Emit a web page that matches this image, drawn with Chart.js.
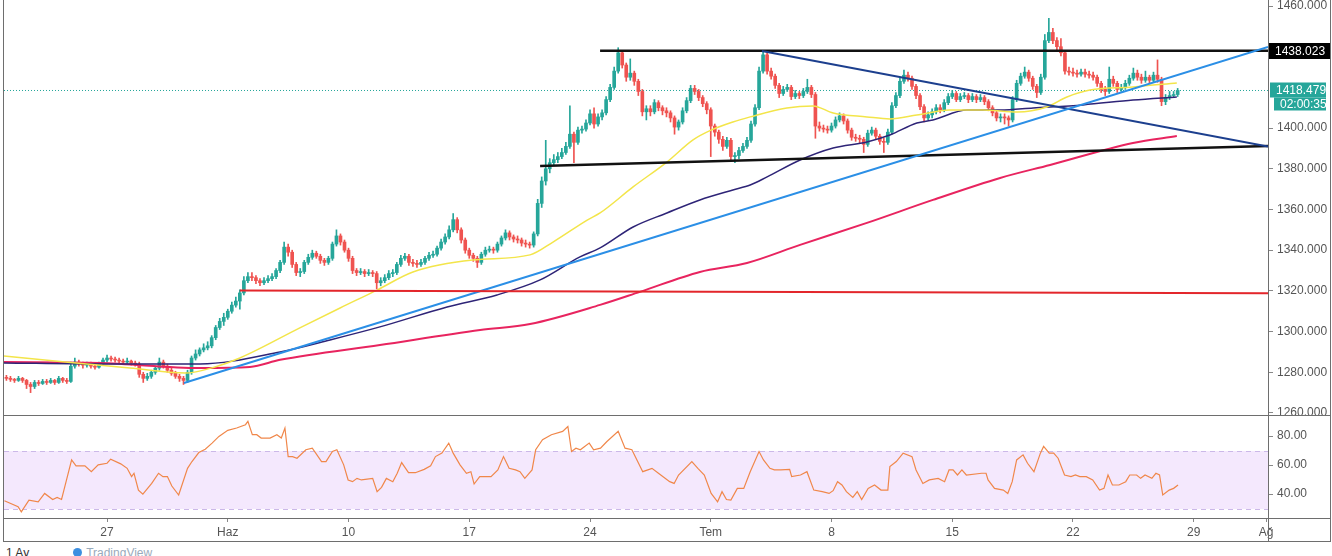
<!DOCTYPE html>
<html>
<head>
<meta charset="utf-8">
<script src="https://cdn.jsdelivr.net/npm/chart.js@4.4.1/dist/chart.umd.min.js"></script>
<style>
  body { margin: 0; background: #fff; width: 1332px; height: 556px; overflow: hidden; position: relative;
         font-family: "Liberation Sans", Arial, sans-serif; }
  canvas { position: absolute; left: 0; }
  #main { top: 0; }
  #rsi { top: 416px; }
  .hl, .vl { position: absolute; background: #6e6e6e; }
  .hl { left: 3px; width: 1328px; height: 1px; }
  .vl { top: 0; width: 1px; height: 542px; }
  #foot { position: absolute; left: 6px; top: 546px; font-size: 12px; color: #333; white-space: nowrap; }
  #foot .dot { display: inline-block; width: 9px; height: 9px; border-radius: 50%; background: #3d8fe0; margin: 0 4px 0 44px; }
  #foot .tv { color: #9ab; }
</style>
</head>
<body>
<canvas id="main" width="1332" height="415"></canvas>
<canvas id="rsi" width="1332" height="125"></canvas>
<div class="hl" style="top:415px"></div>
<div class="hl" style="top:518px"></div>
<div class="hl" style="top:541px"></div>
<div class="vl" style="left:3px"></div>
<div class="vl" style="left:1268px"></div>
<div class="vl" style="left:1330px"></div>
<div id="foot">1 Ay<span class="dot"></span><span class="tv">TradingView</span></div>
<script>
// 4h bars, bar 0 = 27 May, 6 bars per trading day
const firstBar = -25;
const firstOpen = 1277.5;

const closes = [
  1277, 1276.5, 1276, 1277, 1276, 1274, 1273, 1275, 1274.5, 1275.5,
  1275, 1276, 1275, 1277, 1276, 1275.5, 1283, 1285, 1284, 1283.5,
  1284, 1283, 1282.5, 1284, 1286, 1287, 1286.5, 1286, 1285.5, 1285,
  1285.5, 1284.5, 1284, 1279, 1277, 1278, 1280, 1282, 1285, 1283,
  1281, 1279.5, 1278, 1277, 1276, 1280, 1287, 1289, 1291, 1292,
  1293, 1297, 1302, 1305, 1307, 1310, 1313, 1315, 1319, 1325,
  1327, 1326.5, 1325, 1324, 1325, 1326, 1327, 1330, 1334, 1341.5,
  1339, 1333, 1329, 1329.5, 1334, 1336.5, 1338.5, 1337, 1335, 1334,
  1336, 1343, 1347, 1344, 1340, 1336, 1330, 1329, 1329.5, 1328.5,
  1329, 1328.5, 1324, 1325, 1326.5, 1328.5, 1329, 1333, 1336, 1337,
  1334, 1333.5, 1333, 1334, 1336, 1337.5, 1338, 1341, 1344, 1346.5,
  1350, 1355, 1350, 1345, 1340, 1337.5, 1336, 1334, 1338, 1340,
  1340.5, 1340, 1343, 1346, 1348.5, 1346.5, 1345.5, 1345, 1343.5, 1343,
  1342.5, 1348, 1363, 1374, 1380, 1383, 1384.5, 1386, 1388, 1391,
  1397, 1393, 1399, 1399.5, 1402.5, 1407, 1402, 1405.5, 1407.5, 1414,
  1420, 1428, 1437, 1431, 1425, 1427, 1423, 1418, 1408, 1409.5,
  1408, 1412.5, 1410, 1408.5, 1407.5, 1405, 1400.5, 1403, 1408.5, 1413.5,
  1419.5, 1418, 1415, 1412, 1409, 1401, 1398, 1394.5, 1391, 1394,
  1386, 1386.5, 1389, 1391, 1394, 1402, 1410, 1428, 1436, 1428,
  1425.5, 1421, 1417, 1419, 1420, 1415.5, 1417, 1416, 1418, 1420,
  1416.5, 1401, 1400, 1399.5, 1399, 1401, 1404, 1406, 1403.5, 1399,
  1395.5, 1395, 1394.5, 1392, 1397.5, 1399, 1396, 1393.5, 1393, 1398,
  1411, 1416, 1423, 1426, 1424.5, 1420.5, 1416, 1410.5, 1405, 1406.5,
  1408, 1410, 1409, 1412.5, 1415.5, 1417, 1414, 1415.5, 1416, 1414,
  1415.5, 1414, 1415, 1413, 1410, 1407.5, 1405, 1405.5, 1405, 1404,
  1414, 1422, 1425.5, 1427.5, 1424.5, 1420.5, 1417.5, 1425, 1443, 1447,
  1443, 1440, 1437, 1428, 1427.5, 1427, 1426.5, 1427.5, 1426.5, 1426,
  1425, 1422, 1419, 1418, 1424, 1422, 1419, 1420, 1422, 1424.5,
  1427, 1425, 1423.5, 1425, 1423.5, 1426, 1424, 1413, 1415, 1416,
  1416.5, 1418.479
];

const highs = [
  1278.5, 1278, 1277, 1278, 1277.5, 1276.5, 1275, 1276, 1276, 1276.5,
  1276.5, 1277, 1276.5, 1278, 1277.5, 1277, 1285, 1287, 1286, 1285,
  1285, 1285, 1284, 1285, 1287, 1288.5, 1288, 1287.5, 1287, 1286.5,
  1287, 1286, 1285.5, 1285, 1280, 1279.5, 1281, 1283, 1287, 1286,
  1284, 1282, 1280.5, 1279, 1278, 1281, 1288, 1291, 1292, 1294,
  1295, 1298, 1303, 1306.5, 1309, 1311, 1314.5, 1317, 1320.5, 1327,
  1329, 1329, 1327.5, 1326, 1326.5, 1327.5, 1328.5, 1331, 1335, 1344,
  1343, 1340, 1334, 1331, 1335, 1338, 1340, 1339.5, 1338, 1336,
  1337, 1344, 1350, 1348, 1345, 1341, 1337, 1331, 1331, 1330.5,
  1330.5, 1330, 1329.5, 1326.5, 1328, 1330, 1330.5, 1334, 1337.5, 1338.5,
  1338, 1335.5, 1335, 1335.5, 1337, 1339, 1339.5, 1342, 1345.5, 1348,
  1352, 1358, 1356, 1351, 1346, 1341, 1338.5, 1337, 1339, 1341.5,
  1342, 1341.5, 1344, 1347, 1350, 1349.5, 1347.5, 1347, 1346, 1345,
  1344, 1349, 1365, 1376, 1394, 1385, 1387, 1388, 1390, 1393,
  1411, 1398, 1400.5, 1401, 1404, 1409, 1410, 1407, 1409, 1415.5,
  1421.5, 1430, 1439.5, 1438, 1432, 1434, 1428, 1424, 1419, 1411,
  1411, 1414, 1413.5, 1411, 1410, 1408.5, 1406, 1404, 1410, 1415,
  1421, 1421, 1419, 1416, 1413, 1410, 1402, 1399, 1396, 1395.5,
  1395, 1388, 1390.5, 1392.5, 1395.5, 1403.5, 1411.5, 1430, 1438, 1437,
  1429.5, 1426.5, 1422, 1420.5, 1421.5, 1421, 1418.5, 1418, 1419.5, 1424,
  1421, 1417.5, 1403, 1401.5, 1401, 1402.5, 1405.5, 1407.5, 1407, 1404.5,
  1400, 1397, 1396.5, 1395.5, 1399, 1400.5, 1400, 1397, 1395, 1399.5,
  1412.5, 1417.5, 1424.5, 1428.5, 1427.5, 1425.5, 1421.5, 1417, 1411.5, 1408,
  1409.5, 1411.5, 1411.5, 1414, 1417, 1418.5, 1418, 1417, 1417.5, 1417,
  1417, 1416.5, 1416.5, 1416, 1414, 1411, 1408.5, 1407, 1407, 1406,
  1415.5, 1423.5, 1427, 1430, 1428.5, 1425.5, 1421.5, 1426.5, 1446, 1454,
  1449, 1444.5, 1444, 1438, 1430, 1429.5, 1428.5, 1429, 1429, 1428,
  1427.5, 1426, 1423, 1420.5, 1430, 1425.5, 1423, 1421.5, 1423.5, 1426,
  1429.5, 1428.5, 1426.5, 1428, 1426, 1427.5, 1433.5, 1425, 1416.5, 1418,
  1418, 1419.5
];

const lows = [
  1276, 1275.5, 1275, 1275.5, 1275, 1272, 1270, 1272, 1273.5, 1274,
  1274, 1274.5, 1274, 1274.5, 1275, 1274.5, 1275, 1282, 1283, 1282,
  1282.5, 1282, 1281.5, 1282, 1283.5, 1285, 1285.5, 1285, 1284.5, 1284,
  1284, 1283.5, 1283, 1277.5, 1275, 1276, 1277, 1279, 1281, 1282,
  1280, 1278.5, 1277, 1275.5, 1274, 1275, 1279, 1286, 1288, 1290,
  1291, 1292, 1296, 1301, 1303, 1306, 1309, 1312, 1311, 1318,
  1324, 1325, 1323.5, 1322.5, 1323, 1324, 1325, 1326, 1329, 1333,
  1337, 1331.5, 1327.5, 1327, 1328.5, 1333, 1335.5, 1336, 1333.5, 1332.5,
  1333, 1335, 1342, 1342.5, 1339, 1334.5, 1328.5, 1327.5, 1328, 1327,
  1327.5, 1327, 1321, 1322.5, 1324, 1325.5, 1327, 1328, 1332, 1335,
  1332.5, 1332, 1331.5, 1332, 1333, 1335, 1336.5, 1337, 1340, 1343,
  1345.5, 1349, 1348.5, 1343.5, 1338.5, 1336, 1334.5, 1331.5, 1333, 1337,
  1339, 1338.5, 1339, 1342, 1345, 1345, 1344, 1343.5, 1342, 1341.5,
  1341, 1341.5, 1347, 1361, 1372, 1378, 1381.5, 1383, 1385, 1387,
  1390, 1383, 1392, 1397.5, 1398.5, 1401.5, 1400, 1401, 1404, 1406.5,
  1413, 1419, 1427, 1429.5, 1423, 1423.5, 1421, 1416, 1406, 1404,
  1406, 1407, 1408.5, 1406.5, 1405.5, 1403, 1397, 1399, 1402, 1407.5,
  1412.5, 1416.5, 1413.5, 1410.5, 1407, 1386, 1396, 1392.5, 1389, 1390,
  1384.5, 1383, 1385, 1388, 1390, 1393, 1401, 1409, 1427, 1426.5,
  1424, 1419.5, 1415, 1416, 1418, 1414, 1414.5, 1414.5, 1415, 1417,
  1415, 1395, 1398.5, 1398, 1397.5, 1398, 1400, 1403, 1402, 1397.5,
  1394, 1393.5, 1392.5, 1388, 1391, 1396.5, 1394.5, 1392, 1388, 1392,
  1397, 1410, 1415, 1422, 1423, 1419, 1414.5, 1409, 1403, 1404,
  1405, 1407, 1407.5, 1408, 1411.5, 1414.5, 1413, 1413, 1414.5, 1412.5,
  1413, 1412.5, 1413, 1411.5, 1408.5, 1406, 1403.5, 1403, 1402, 1401,
  1403, 1413, 1421, 1424.5, 1423, 1419, 1415, 1416.5, 1424, 1442,
  1441.5, 1438.5, 1435.5, 1426.5, 1426, 1425.5, 1425, 1425.5, 1425, 1424.5,
  1423.5, 1420.5, 1417.5, 1416, 1417, 1420.5, 1417.5, 1418, 1419, 1421,
  1423.5, 1423.5, 1422, 1422.5, 1422, 1422.5, 1422.5, 1411, 1411.5, 1414,
  1415, 1415.5
];

// moving averages: [bar, price]
const maYellow = [[-25.6,1288],[-10.4,1285.1],[5.7,1282.1],[19.4,1279.6],[26.8,1282.6],[33,1287],[47.9,1301.8],
  [57.9,1311.6],[67.1,1320.4],[76,1329.3],[90.9,1335.2],[105.1,1337.7],[110.8,1344],[119.3,1354.8],[122.5,1358.3],
  [130.7,1371.1],[139.1,1383.3],[145.6,1394.2],[150.2,1399.1],[155.5,1403],[159.8,1405.5],[168.9,1409.9],
  [175.4,1410.9],[180.4,1407.4],[188.8,1405.5],[194.5,1404.5],[201.2,1406.4],[209.4,1408.9],[217.6,1408.9],
  [226.1,1407.9],[233.5,1410.4],[238.5,1415.3],[244.2,1418.7],[254.9,1420.2],[265.8,1422.2]];
const maNavy = [[-25.6,1284.6],[-1.7,1284.1],[23.1,1284.1],[43,1290],[55.4,1295.9],[67.8,1302.3],[84.5,1312.1],
  [96.9,1318],[107.6,1325.4],[117.5,1336.7],[122.5,1341.1],[130.7,1351.4],[139.1,1358.3],[147.3,1364.7],
  [155.5,1369.6],[159.8,1372],[164,1376],[172.2,1384.3],[180.4,1390.2],[188.8,1393.2],[194.5,1396.6],
  [201.2,1402.5],[205.2,1404],[213.7,1408.9],[221.9,1408.9],[230.1,1409.9],[242.5,1411.4],[254.9,1413.8],
  [265.8,1415.3]];
const maCrimson = [[-25.6,1285],[-1.7,1284.6],[23.1,1282.1],[35.5,1282.6],[43,1286.1],[67.8,1293.4],[92.7,1300.8],
  [105.1,1303.7],[122.5,1313.1],[132.4,1319.5],[147.3,1329.3],[159,1333.7],[172.2,1342.6],[188.8,1353.4],
  [205.2,1364.7],[221.9,1375.5],[234.3,1381.9],[254.9,1392.7],[265.8,1396.1]];

// drawn trend lines: [bar, price]
const resistanceTop = [[122.5,1438.02],[288.45,1438.02]];
const supportBottom = [[107.6,1381.4],[288.45,1391.2]];
const fallingLine = [[162.7,1437.9],[288.45,1390.9]];
const risingLine = [[19.1,1274.7],[288.45,1439.9]];
const level1320 = [[33,1320.2],[288.45,1318.8]];

const rsiValues = [[-25.5,35.3],[-22.1,31.2],[-21.3,27.7],[-19.4,35.8],[-17.1,34.6],[-15.5,40.4],[-13.5,36.2],
  [-12.4,37.6],[-11.3,36.2],[-8.8,63.5],[-7.7,59.4],[-5.5,59.4],[-3.9,55.4],[-2.2,60.1],[0,61.2],[0.9,64],
  [3.4,60.8],[5,57.7],[6.1,52],[6.7,54.3],[7.8,42.7],[8.9,39.9],[11.1,47.3],[12.8,54.3],[13.9,52],[15,52],
  [16.1,45.5],[17.8,39.3],[20,57.7],[21.1,62.4],[22.8,68.6],[24.4,70.9],[26.1,75.1],[27.8,79.7],[30,83.9],
  [32.2,85.5],[34.4,87.8],[35,90.1],[36.1,80.9],[37.2,80.9],[38.3,78.6],[40.5,78.6],[42.2,80.9],[43.3,78.6],
  [44.2,85.5],[45,65.8],[46.1,65.8],[47.2,64.7],[49.4,70.5],[51,71.6],[53.3,62.4],[54.4,62.4],[56,69.3],
  [57.1,70.5],[58.8,60.1],[59.9,49.7],[61,48.5],[62.1,50.8],[63.2,49.7],[66,50.8],[67.1,41.6],[68.2,44.6],
  [69.4,50.8],[71,48.5],[72.1,54.3],[73.2,61.7],[74.9,54.7],[76.6,54.7],[78.8,57],[80.4,59.4],[81.6,65.8],
  [83.2,68.2],[84.9,75.1],[86,68.2],[87.7,60.1],[89.3,54.3],[90.4,55.4],[91.2,46.9],[92.6,52],[95.4,52],
  [97.1,56.6],[98.5,65.8],[99.9,57.7],[101.5,56.6],[102.6,55.4],[103.8,50.8],[105.6,56.6],[106.5,70.5],
  [108.2,77.4],[110.4,80.9],[113.2,83.2],[114.5,86.6],[115.4,69.3],[116.5,71.6],[117.6,70.5],[119.8,75.1],
  [120.9,70.5],[122.6,71.6],[124.2,76.2],[127,83.2],[128.7,71.6],[130.4,70.5],[133.1,55.4],[135.4,57.7],
  [137,54.3],[139.8,48.5],[140.9,47.3],[142,53.1],[145.3,62.4],[146.8,57.7],[148.4,53.1],[150.1,40.4],
  [151.7,34.6],[152.8,41.6],[153.9,36.2],[155,35.8],[156.6,43.9],[158.2,43.9],[159.8,55.4],[162,69.3],
  [163.1,63.5],[164.7,57.7],[165.8,56.6],[167.4,56.6],[169.6,57],[170.1,52],[172.3,53.1],[173.9,55.4],
  [175.6,42.7],[177.7,41.6],[179.4,40.4],[180.4,42.3],[181.5,48.5],[182.6,46.2],[183.7,41.6],[185.3,37.6],
  [186.4,41.6],[187.5,36.2],[189.1,43.9],[190.7,46.2],[192.3,42.7],[194,42.7],[194.5,58.9],[196.1,62.4],
  [197.8,68.2],[200,65.8],[201,56.6],[202.7,47.3],[204.3,49.7],[206.5,50.8],[208.1,48.5],[209.2,56.6],
  [210.2,56.6],[211.3,53.1],[212.4,56.6],[213.5,53.1],[217.3,54.3],[218.4,54.3],[218.9,49.7],[220.5,43.9],
  [222.7,42.7],[223.8,40.4],[224.9,48.5],[226,63.5],[227.6,67],[228.7,61.2],[230.3,55.4],[231.9,68.2],
  [232.7,72.8],[234.1,68.2],[235.2,68.2],[236.3,64.7],[237.9,53.1],[239.5,52],[240.6,53.1],[241.7,52],
  [243.3,52],[244.9,49.7],[246.6,42.7],[247.7,43.9],[248.7,53.1],[249.8,46.2],[251.4,46.2],[253.1,48.5],
  [254.1,53.1],[255.8,53.1],[256.8,50.8],[257.9,53.1],[259.6,50.8],[260.6,54.3],[261.5,53.1],[262.3,39.3],
  [263.9,42.7],[265,43.9],[266.1,46.2]];

// 1420 and 1440 sit under the price labels, so they are not shown
const priceTicks = [1260, 1280, 1300, 1320, 1340, 1360, 1380, 1400, 1460];
const rsiTicks = [40, 60, 80];
const dateTickBars = [0, 30, 60, 90, 120, 150, 180, 210, 240, 270, 288];
const dateTickLabels = ['27', 'Haz', '10', '17', '24', 'Tem', '8', '15', '22', '29', 'Ağ'];
const rsiHigh = 70, rsiLow = 30;
const levelPrice = 1438.023;
const countdown = '02:00:35';

const X_MIN = -25.6, X_MAX = 288.45;
const UP = '#26a69a', DOWN = '#ef5350', TEAL = '#26a69a';
const AXIS_TEXT = '#555';

Chart.defaults.font.family = '"Liberation Sans", Arial, sans-serif';
Chart.defaults.font.size = 12;

// candles: open = previous close
const bodies = [], wicks = [], candleColors = [];
closes.forEach((c, i) => {
  const o = i ? closes[i - 1] : firstOpen;
  const x = firstBar + i;
  bodies.push({ x: x, y: [Math.min(o, c), Math.max(o, c)] });
  wicks.push({ x: x, y: [lows[i], highs[i]] });
  candleColors.push(c >= o ? UP : DOWN);
});
const lastPrice = closes[closes.length - 1];

function lineSet(pts, color, width, extra) {
  return Object.assign({
    type: 'line',
    data: pts.map(p => ({ x: p[0], y: p[1] })),
    borderColor: color,
    borderWidth: width,
    pointRadius: 0,
    fill: false,
    order: 2
  }, extra || {});
}

const priceLabels = {
  id: 'priceLabels',
  afterDraw(chart) {
    const ctx = chart.ctx, y = chart.scales.y, x0 = chart.chartArea.right;
    function box(val, text, bg, left, w, h, dy) {
      const yc = Math.round(y.getPixelForValue(val)) + dy;
      ctx.fillStyle = bg;
      ctx.fillRect(x0 + left, yc - h / 2, w, h);
      ctx.fillStyle = '#fff';
      ctx.font = '12px "Liberation Sans", Arial, sans-serif';
      ctx.textBaseline = 'middle';
      ctx.textAlign = 'left';
      ctx.fillText(text, x0 + left + 6, yc + 1);
    }
    ctx.save();
    box(levelPrice, levelPrice.toFixed(3), '#000', 1, 61, 16, 0);
    box(lastPrice, lastPrice.toFixed(3), TEAL, 2, 56, 15, 0);
    box(lastPrice, countdown, TEAL, 6, 52, 13, 14);
    ctx.restore();
  }
};

new Chart(document.getElementById('main'), {
  type: 'bar',
  data: {
    datasets: [
      lineSet([[X_MIN, lastPrice], [X_MAX, lastPrice]], TEAL, 1, { borderDash: [1, 2], order: 30 }),
      { type: 'bar', data: wicks, backgroundColor: candleColors, barThickness: 1, grouped: false, order: 21 },
      { type: 'bar', data: bodies, backgroundColor: candleColors, barThickness: 3, grouped: false, minBarLength: 1, order: 20 },
      lineSet(maCrimson, '#e8245f', 2, { cubicInterpolationMode: 'monotone', order: 5 }),
      lineSet(maNavy, '#2e2477', 1.5, { cubicInterpolationMode: 'monotone', order: 4 }),
      lineSet(maYellow, '#f3e54a', 1.5, { cubicInterpolationMode: 'monotone', order: 3 }),
      lineSet(level1320, '#e3262b', 2),
      lineSet(risingLine, '#2b8fe6', 2),
      lineSet(fallingLine, '#1c3f8e', 2),
      lineSet(supportBottom, '#111', 2.5),
      lineSet(resistanceTop, '#111', 2.5)
    ]
  },
  options: {
    responsive: false,
    animation: false,
    layout: { padding: { left: 4, right: 0, top: 0, bottom: 0 } },
    plugins: { legend: { display: false }, tooltip: { enabled: false } },
    scales: {
      x: { type: 'linear', min: X_MIN, max: X_MAX, offset: false, display: false },
      y: {
        position: 'right', min: 1259, max: 1462.95,
        afterBuildTicks: s => { s.ticks = priceTicks.map(v => ({ value: v })); },
        afterFit: s => { s.width = 64; s.paddingTop = 0; s.paddingBottom = 0; },
        ticks: { callback: v => Number(v).toFixed(3), color: AXIS_TEXT, padding: 4 },
        grid: { drawOnChartArea: false, drawTicks: true, tickLength: 5, tickColor: '#888' },
        border: { display: false }
      }
    }
  },
  plugins: [priceLabels]
});

const rsiBand = {
  id: 'rsiBand',
  beforeDatasetsDraw(chart) {
    const ctx = chart.ctx, a = chart.chartArea, y = chart.scales.y;
    const yt = Math.round(y.getPixelForValue(rsiHigh)), yb = Math.round(y.getPixelForValue(rsiLow));
    ctx.save();
    ctx.fillStyle = '#f4e8fd';
    ctx.fillRect(a.left, yt, a.right - a.left, yb - yt);
    ctx.strokeStyle = '#cbb8e8';
    ctx.lineWidth = 1;
    ctx.setLineDash([5, 4]);
    [yt, yb].forEach(yy => {
      ctx.beginPath();
      ctx.moveTo(a.left, yy + 0.5);
      ctx.lineTo(a.right, yy + 0.5);
      ctx.stroke();
    });
    ctx.restore();
  }
};

new Chart(document.getElementById('rsi'), {
  type: 'line',
  data: {
    datasets: [
      lineSet(rsiValues, '#f0874a', 1.2)
    ]
  },
  options: {
    responsive: false,
    animation: false,
    layout: { padding: { left: 4, right: 0, top: 0, bottom: 0 } },
    plugins: { legend: { display: false }, tooltip: { enabled: false } },
    scales: {
      x: {
        type: 'linear', min: X_MIN, max: X_MAX, offset: false,
        afterBuildTicks: s => { s.ticks = dateTickBars.map(v => ({ value: v })); },
        afterFit: s => { s.height = 23; s.paddingLeft = 0; s.paddingRight = 0; },
        ticks: {
          callback: v => dateTickLabels[dateTickBars.indexOf(v)],
          color: AXIS_TEXT, maxRotation: 0, autoSkip: false, padding: 3
        },
        grid: { drawOnChartArea: false, drawTicks: true, tickLength: 4, tickColor: '#888' },
        border: { display: false }
      },
      y: {
        position: 'right', min: 23.45, max: 93.8,
        afterBuildTicks: s => { s.ticks = rsiTicks.map(v => ({ value: v })); },
        afterFit: s => { s.width = 64; s.paddingTop = 0; s.paddingBottom = 0; },
        ticks: { callback: v => Number(v).toFixed(2), color: AXIS_TEXT, padding: 4 },
        grid: { drawOnChartArea: false, drawTicks: true, tickLength: 5, tickColor: '#888' },
        border: { display: false }
      }
    }
  },
  plugins: [rsiBand]
});
</script>
</body>
</html>
